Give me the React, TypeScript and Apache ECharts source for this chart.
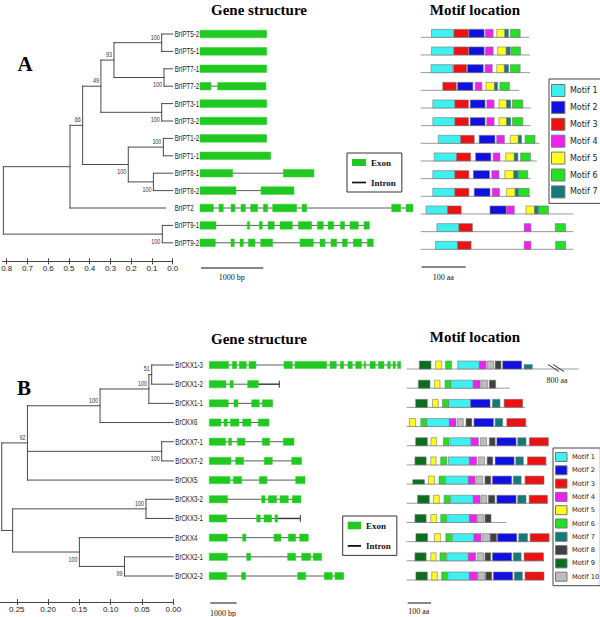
import React, { useEffect, useRef } from "react";
import * as echarts from "echarts";

// ---------------- DATA ----------------
type TNode = { d: number; b?: number; c?: TNode[]; n?: string };
const L = (n: string, d = 0): TNode => ({ n, d });
const N = (d: number, c: TNode[], b?: number): TNode => ({ d, c, b });

// Panel A tree (branch depth = distance from tips)
const TREE_A = N(0.816, [
  N(0.495, [
    N(0.434, [
      N(0.346, [
        N(0.283, [
          N(0.053, [L("BrIPT5-2"), L("BrIPT5-1")], 100),
          N(0.042, [L("BrIPT7-1"), L("BrIPT7-2")], 100),
        ], 93),
        N(0.053, [L("BrIPT3-1"), L("BrIPT3-2")], 100),
      ], 49),
      N(0.214, [
        N(0.045, [L("BrIPT1-2"), L("BrIPT1-1")], 100),
        N(0.093, [L("BrIPT8-1"), L("BrIPT8-2")], 100),
      ], 100),
    ], 66),
    L("BrIPT2", 0.034),
  ]),
  N(0.05, [L("BrIPT9-1"), L("BrIPT9-2")], 100),
]);
const BOOT_SIDE_A = ["up", "up", "up", "up", "down", "down", "down", "up", "down", "down"];
const TICKS_A = [0, 0.1, 0.2, 0.3, 0.4, 0.5, 0.6, 0.7, 0.8];

const TREE_B = N(0.274, [
  N(0.233, [
    N(0.117, [
      N(0.039, [
        N(0.0345, [L("BrCKX1-3"), L("BrCKX1-2")], 51),
        L("BrCKX1-1"),
      ], 100),
      L("BrCKX6"),
    ], 100),
    N(0.0185, [L("BrCKX7-1"), L("BrCKX7-2")], 100),
    L("BrCKX5"),
  ], 92),
  N(0.2566, [
    N(0.0436, [L("BrCKX3-2"), L("BrCKX3-1")], 100),
    N(0.15, [L("BrCKX4"), N(0.078, [L("BrCKX2-1"), L("BrCKX2-2")], 99)], 100),
  ]),
]);
const BOOT_SIDE_B = ["up", "up", "up", "up", "down", "up", "down", "down"];
const TICKS_B = [0, 0.05, 0.1, 0.15, 0.2, 0.25];

// Gene structures (bp) - exons per gene, in leaf order
const EXONS_A: number[][][] = [
  [[0, 1053]],
  [[0, 1053]],
  [[0, 1053]],
  [[0, 174], [279, 1042]],
  [[0, 1053]],
  [[0, 1053]],
  [[0, 1053]],
  [[0, 1116]],
  [[0, 516], [1316, 1800]],
  [[0, 568], [963, 1484]],
  [[0, 211], [300, 368], [489, 553], [647, 716], [800, 911], [1000, 1068], [1147, 1526], [1611, 1684], [3026, 3168], [3253, 3363]],
  [[0, 253], [747, 784], [937, 984], [1074, 1174], [1263, 1458], [1553, 1763], [1853, 1947], [2021, 2111], [2216, 2284], [2368, 2500], [2589, 2674]],
  [[0, 242], [489, 542], [632, 684], [763, 868], [958, 1147], [1579, 1789], [1895, 1974], [2068, 2158], [2247, 2326], [2421, 2553], [2642, 2737]],
];
const GENE_END_A: (number | null)[] = EXONS_A.map(() => null);

const EXONS_B: number[][][] = [
  [[0, 708], [842, 1001], [1099, 1355], [1453, 1709], [2735, 3040], [3138, 4298], [4420, 4652], [4799, 4921], [5080, 5238], [5362, 5570], [5668, 5717], [5885, 6081], [6191, 6398], [6532, 6630], [6728, 6813], [6899, 7009]],
  [[0, 611], [757, 879], [1404, 1795]],
  [[0, 696], [903, 1050], [1551, 1832], [1941, 2320]],
  [[0, 427], [537, 659], [769, 1087], [1221, 1526], [1795, 2186]],
  [[0, 598], [708, 818], [1026, 1306], [1941, 2210], [2711, 3101]],
  [[0, 794], [965, 1258], [2015, 2308], [3016, 3382]],
  [[0, 757], [879, 1184], [1831, 2112], [3162, 3504]],
  [[0, 672], [1917, 2039], [2161, 2466], [2589, 2894], [3040, 3358]],
  [[0, 635], [1734, 1868], [2002, 2283], [2405, 2503]],
  [[0, 659], [1221, 1343], [2369, 2625], [2894, 3162], [3309, 3626]],
  [[0, 659], [1367, 1514], [2869, 3162], [3382, 3712], [3809, 4115]],
  [[0, 635], [1184, 1331], [3236, 3529], [4212, 4505], [4603, 4921]],
];
const GENE_END_B: (number | null)[] = [null, 2564, null, null, null, null, null, null, 3333, null, null, null];

// Motifs (aa): [motif, start, end, partial?]
const MOTIF_LEN_A = [241, 243, 243, 219, 244, 244, 264, 258, 244, 244, 339, 339, 339];
const MOTIFS_A: number[][][] = [
  [[1, 24, 73], [3, 74, 106], [2, 107, 141], [4, 144, 161], [5, 169, 187], [7, 187, 195], [6, 199, 221]],
  [[1, 24, 73], [3, 74, 106], [2, 107, 141], [4, 144, 161], [5, 171, 190], [7, 190, 199], [6, 201, 222]],
  [[1, 23, 71], [3, 73, 102], [2, 104, 139], [4, 143, 159], [5, 169, 186], [7, 186, 195], [6, 199, 221]],
  [[3, 49, 79], [2, 82, 116], [4, 121, 136], [5, 145, 164], [7, 164, 171], [6, 176, 197]],
  [[1, 27, 76], [3, 76, 106], [2, 110, 143], [4, 147, 163], [5, 174, 191], [7, 191, 200], [6, 204, 227]],
  [[1, 27, 76], [3, 76, 106], [2, 110, 143], [4, 147, 163], [5, 174, 191], [7, 191, 200], [6, 204, 227]],
  [[1, 39, 89], [3, 89, 119], [2, 130, 165], [4, 169, 186], [5, 199, 217], [7, 217, 224], [6, 232, 254]],
  [[1, 30, 80], [3, 80, 111], [2, 122, 156], [4, 161, 176], [5, 189, 208], [7, 208, 216], [6, 222, 244]],
  [[1, 27, 76], [3, 76, 107], [2, 117, 153], [4, 158, 174], [5, 187, 207], [7, 207, 216], [6, 216, 238]],
  [[1, 27, 76], [3, 76, 107], [2, 119, 154], [4, 159, 175], [5, 191, 210], [7, 210, 217], [6, 217, 241]],
  [[1, 12, 60], [3, 60, 90], [2, 154, 190], [4, 191, 208], [5, 234, 253], [7, 253, 261], [6, 261, 284]],
  [[1, 36, 85], [3, 85, 115], [4, 230, 245], [6, 299, 322]],
  [[1, 33, 82], [3, 82, 112], [4, 230, 245], [6, 300, 322]],
];

const MOTIF_LEN_B = [707, 425, 487, 498, 583, 577, 565, 581, 409, 586, 565, 565];
const MOTIFS_B: number[][][] = [
  [[9, 52, 100], [5, 119, 144], [6, 160, 185], [1, 210, 299], [4, 299, 327], [10, 332, 357], [8, 364, 388], [2, 395, 473], [7, 483, 517, 1]],
  [[9, 48, 96], [5, 114, 137], [6, 158, 181], [1, 181, 274], [4, 274, 302], [10, 306, 333], [8, 340, 366]],
  [[9, 37, 85], [5, 106, 130], [6, 147, 172], [1, 172, 263], [2, 263, 343], [7, 353, 384], [3, 401, 477]],
  [[5, 11, 37], [6, 58, 82], [1, 82, 176], [4, 176, 203], [10, 209, 233], [8, 244, 268], [2, 277, 357], [7, 364, 395], [3, 412, 490]],
  [[9, 37, 85], [5, 100, 123], [6, 151, 174], [1, 178, 265], [4, 265, 295], [10, 303, 329], [8, 340, 364], [2, 371, 450], [7, 457, 491], [3, 505, 583]],
  [[9, 34, 80], [5, 99, 121], [6, 140, 165], [1, 172, 258], [4, 258, 288], [10, 295, 320], [8, 331, 354], [2, 364, 442], [7, 449, 480], [3, 497, 573]],
  [[9, 25, 73, 1], [5, 89, 114], [6, 133, 158], [1, 161, 254], [4, 254, 281], [10, 285, 313], [8, 322, 346], [2, 353, 432], [7, 439, 471], [3, 487, 565]],
  [[9, 45, 93], [5, 110, 134], [6, 154, 178], [1, 181, 274], [4, 274, 302], [10, 306, 329], [8, 336, 363], [2, 371, 450], [7, 457, 491], [3, 504, 579]],
  [[9, 34, 80], [5, 99, 123], [6, 140, 165], [1, 169, 258], [4, 258, 288], [10, 291, 316], [8, 322, 347]],
  [[9, 38, 86], [5, 114, 140], [6, 161, 185], [1, 188, 277], [4, 277, 306], [10, 311, 343], [8, 343, 370], [2, 374, 453], [7, 461, 497], [3, 508, 586]],
  [[9, 34, 80], [5, 99, 121], [6, 137, 162], [1, 165, 254], [4, 254, 284], [10, 291, 316], [8, 322, 346], [2, 353, 432], [7, 439, 471], [3, 483, 563]],
  [[9, 38, 85], [5, 103, 126], [6, 144, 167], [1, 169, 258], [4, 258, 291], [10, 295, 322], [8, 325, 350], [2, 357, 436], [7, 443, 476], [3, 487, 565]],
];
const BREAK_B = { row: 0, at: 600, label: "800 aa" };

const SCALE_BP = 1000;
const SCALE_AA = 100;

// ---------------- STYLE ----------------
const LABEL_FONT = '"Liberation Sans", Arial, sans-serif';
const SERIF = '"Liberation Serif", "Times New Roman", serif';
const SANS = '"DejaVu Sans", Verdana, sans-serif';
const EXON_COLOR = "#22c822";
const INTRON_COLOR = "#5c5c5c";
const TREE_COLOR = "#4a4a4a";
const MOTIF_COLORS = ["#3ef0f0", "#1010e0", "#ee1111", "#ee22ee", "#ffff22", "#22e022", "#137a7a", "#404040", "#0b6e1e", "#bdbdbd"];

function layoutTree(root: TNode) {
  const segs: number[][] = [];
  const leaves: { name: string; d: number; y: number }[] = [];
  const boots: { d: number; y: number; b: number }[] = [];
  const walk = (node: TNode): number => {
    if (node.n !== undefined) {
      const y = leaves.length;
      leaves.push({ name: node.n, d: node.d, y });
      return y;
    }
    let bi = -1;
    if (node.b !== undefined) {
      bi = boots.length;
      boots.push({ d: node.d, y: 0, b: node.b });
    }
    const ys = node.c!.map(walk);
    const y = (ys[0] + ys[ys.length - 1]) / 2;
    segs.push([node.d, ys[0], node.d, ys[ys.length - 1]]);
    node.c!.forEach((ch, i) => segs.push([node.d, ys[i], ch.d, ys[i]]));
    if (bi >= 0) boots[bi].y = y;
    return y;
  };
  walk(root);
  return { segs, leaves, boots };
}

function treeSeries(t: ReturnType<typeof layoutTree>, side: string[], xi: number, yi: number) {
  return [
    {
      type: "custom", xAxisIndex: xi, yAxisIndex: yi, silent: true,
      data: t.segs.map((s) => [s[0], s[1]]),
      renderItem: (p: any, api: any) => {
        const s = t.segs[p.dataIndex];
        const a = api.coord([s[0], s[1]]);
        const b = api.coord([s[2], s[3]]);
        return { type: "line", shape: { x1: a[0], y1: a[1], x2: b[0], y2: b[1] }, style: { stroke: TREE_COLOR, lineWidth: 1, lineCap: "square" } };
      },
    },
    {
      type: "custom", xAxisIndex: xi, yAxisIndex: yi, silent: true,
      data: t.leaves.map((l) => [0, l.y]),
      renderItem: (p: any, api: any) => {
        const l = t.leaves[p.dataIndex];
        const c = api.coord([0, l.y]);
        return { type: "text", x: c[0] + 2, y: c[1], scaleX: 0.68, style: { text: l.name, fill: "#222", fontSize: 9, fontFamily: LABEL_FONT, align: "left", verticalAlign: "middle", textAlign: "left", textVerticalAlign: "middle" } };
      },
    },
    {
      type: "custom", xAxisIndex: xi, yAxisIndex: yi, silent: true,
      data: t.boots.map((b) => [b.d, b.y]),
      renderItem: (p: any, api: any) => {
        const b = t.boots[p.dataIndex];
        const c = api.coord([b.d, b.y]);
        const up = side[p.dataIndex] === "up";
        return { type: "text", x: c[0] - 2, y: c[1] + (up ? -6 : 7), scaleX: 0.72, style: { text: String(b.b), fill: "#333", fontSize: 7.5, fontFamily: LABEL_FONT, align: "right", verticalAlign: "middle", textAlign: "right", textVerticalAlign: "middle" } };
      },
    },
  ];
}

function geneSeries(exons: number[][][], ends: (number | null)[], xi: number, yi: number, exonH: number) {
  const flat: number[][] = [];
  exons.forEach((ex, r) => ex.forEach((e) => flat.push([e[0], e[1], r])));
  return [
    {
      type: "custom", name: "Intron", xAxisIndex: xi, yAxisIndex: yi, silent: true,
      itemStyle: { color: "#111" },
      data: exons.map((ex, r) => [ex[0][0], r]),
      renderItem: (p: any, api: any) => {
        const r = p.dataIndex;
        const ex = exons[r];
        const a = api.coord([ex[0][0], r]);
        const b = api.coord([ex[ex.length - 1][1], r]);
        const children: any[] = [
          { type: "line", shape: { x1: a[0], y1: a[1], x2: b[0], y2: b[1] }, style: { stroke: INTRON_COLOR, lineWidth: 1 } },
        ];
        const end = ends[r];
        if (end != null) {
          const e = api.coord([end, r]);
          children.push({ type: "line", shape: { x1: b[0], y1: b[1], x2: e[0], y2: e[1] }, style: { stroke: "#333", lineWidth: 1.4 } });
          children.push({ type: "line", shape: { x1: e[0], y1: e[1] - 3.5, x2: e[0], y2: e[1] + 3.5 }, style: { stroke: "#333", lineWidth: 1 } });
        }
        return { type: "group", children };
      },
    },
    {
      type: "custom", name: "Exon", xAxisIndex: xi, yAxisIndex: yi, silent: true,
      itemStyle: { color: EXON_COLOR },
      data: flat.map((f) => [f[0], f[2]]),
      renderItem: (p: any, api: any) => {
        const f = flat[p.dataIndex];
        const a = api.coord([f[0], f[2]]);
        const b = api.coord([f[1], f[2]]);
        return { type: "rect", shape: { x: a[0], y: a[1] - exonH / 2, width: Math.max(b[0] - a[0], 1.5), height: exonH }, style: { fill: EXON_COLOR, stroke: "#2bd42b", lineWidth: 0.5 } };
      },
    },
  ];
}

function motifSeries(motifs: number[][][], lens: number[], nMotif: number, xi: number, yi: number, boxH: number, brk?: { row: number; at: number; label: string }) {
  const out: any[] = [
    {
      type: "custom", xAxisIndex: xi, yAxisIndex: yi, silent: true,
      data: lens.map((l, r) => [0, r]),
      renderItem: (p: any, api: any) => {
        const r = p.dataIndex;
        const a = api.coord([0, r]);
        const b = api.coord([lens[r], r]);
        const y = a[1] + boxH / 2;
        const children: any[] = [{ type: "line", shape: { x1: a[0], y1: y, x2: b[0], y2: y }, style: { stroke: "#9a9a9a", lineWidth: 1 } }];
        if (brk && brk.row === r) {
          const c = api.coord([brk.at, r]);
          children.push({ type: "line", shape: { x1: c[0] - 4.5, y1: c[1] - 0.5, x2: c[0] + 6.5, y2: c[1] + 6.5 }, style: { stroke: "#333", lineWidth: 1 } });
          children.push({ type: "line", shape: { x1: c[0] + 0.5, y1: c[1] - 0.5, x2: c[0] + 11.5, y2: c[1] + 6.5 }, style: { stroke: "#333", lineWidth: 1 } });
          children.push({ type: "text", x: c[0] + 4.5, y: c[1] + 15, style: { text: brk.label, fill: "#222", fontSize: 8, fontFamily: SERIF, align: "center", verticalAlign: "middle", textAlign: "center", textVerticalAlign: "middle" } });
        }
        return { type: "group", children };
      },
    },
  ];
  for (let k = 1; k <= nMotif; k++) {
    const items: number[][] = [];
    motifs.forEach((row, r) => row.forEach((m) => { if (m[0] === k) items.push([m[1], m[2], r, m[3] || 0]); }));
    const color = MOTIF_COLORS[k - 1];
    out.push({
      type: "custom", name: `Motif ${k}`, xAxisIndex: xi, yAxisIndex: yi, silent: true,
      itemStyle: { color },
      data: items.map((it) => [it[0], it[2]]),
      renderItem: (p: any, api: any) => {
        const it = items[p.dataIndex];
        const a = api.coord([it[0], it[2]]);
        const b = api.coord([it[1], it[2]]);
        let top = a[1] - boxH / 2;
        let h = boxH;
        if (it[3]) { top += boxH * 0.45; h = boxH * 0.55; }
        return { type: "rect", shape: { x: a[0], y: top, width: b[0] - a[0], height: h }, style: { fill: color, stroke: "#777", lineWidth: 0.6 } };
      },
    });
  }
  return out;
}

function scaleBar(xi: number, yi: number, lastRow: number, len: number, label: string, dyBar: number, dyText: number) {
  return {
    type: "custom", xAxisIndex: xi, yAxisIndex: yi, silent: true,
    data: [[0, lastRow]],
    renderItem: (p: any, api: any) => {
      const a = api.coord([0, lastRow]);
      const b = api.coord([len, lastRow]);
      return {
        type: "group",
        children: [
          { type: "line", shape: { x1: a[0] + 1, y1: a[1] + dyBar, x2: b[0], y2: a[1] + dyBar }, style: { stroke: "#111", lineWidth: 1 } },
          { type: "text", x: (a[0] + b[0]) / 2, y: a[1] + dyText, style: { text: label, fill: "#111", fontSize: 8, fontFamily: SERIF, align: "center", verticalAlign: "middle", textAlign: "center", textVerticalAlign: "middle" } },
        ],
      };
    },
  };
}

// main tree axis (ticks pointing down + labels)
function treeAxis(gridIndex: number, max: number, ticks: number[], digits: number, offset: number) {
  return {
    gridIndex, type: "value", min: 0, max, inverse: true, position: "bottom", offset, splitLine: { show: false },
    axisLine: { show: true, onZero: false, lineStyle: { color: "#444", width: 1 } },
    axisTick: { show: true, inside: false, length: 3, customValues: ticks, lineStyle: { color: "#444" } },
    axisLabel: { show: true, customValues: ticks, formatter: (v: number) => v.toFixed(digits), fontSize: 8, fontFamily: LABEL_FONT, color: "#222", margin: 3.5 },
  };
}
// twin axis on an identical grid (ticks pointing up) so ticks cross the line
function treeAxisUp(gridIndex: number, max: number, ticks: number[], offset: number) {
  return {
    gridIndex, type: "value", min: 0, max, inverse: true, position: "bottom", offset, splitLine: { show: false },
    axisLine: { show: false, onZero: false },
    axisTick: { show: true, inside: true, length: 3, customValues: ticks, lineStyle: { color: "#444" } },
    axisLabel: { show: false },
  };
}

const hiddenX = (gridIndex: number, max: number) => ({ gridIndex, type: "value", min: 0, max, show: false, splitLine: { show: false } });
const hiddenY = (gridIndex: number, n: number) => ({ gridIndex, type: "value", min: 0, max: n - 1, inverse: true, show: false, splitLine: { show: false } });

function buildOption() {
  const A = layoutTree(TREE_A);
  const B = layoutTree(TREE_B);
  const nA = A.leaves.length;
  const nB = B.leaves.length;
  const titleStyle = (text: string, x: number, y: number) => ({
    type: "text", x, y, silent: true,
    style: { text, fill: "#000", font: `bold 15px ${SERIF}`, align: "center", verticalAlign: "middle", textAlign: "center", textVerticalAlign: "middle" },
  });
  const letter = (text: string, x: number, y: number) => ({
    type: "text", x, y, silent: true,
    style: { text, fill: "#000", font: `bold 21px ${SERIF}`, align: "center", verticalAlign: "middle", textAlign: "center", textVerticalAlign: "middle" },
  });
  const intronIcon = "path://M0,0M0,3.8L14,3.8L14,6.2L0,6.2ZM0,10";
  const exonLegend = (left: number, top: number, w: number, h: number, gap: number) => ({
    orient: "vertical", left, top, selectedMode: false, symbolKeepAspect: false,
    data: [{ name: "Exon", icon: "rect" }, { name: "Intron", icon: intronIcon }],
    itemWidth: w, itemHeight: h, itemGap: gap, padding: [5, 6, 5, 5],
    borderColor: "#333", borderWidth: 1, itemStyle: { borderWidth: 0 },
    textStyle: { fontFamily: SERIF, fontWeight: "bold", fontSize: 9, color: "#111" },
  });
  const motifLegend = (n: number, left: number, top: number, w: number, h: number, gap: number, fs: number, pad: number[]) => ({
    orient: "vertical", left, top, selectedMode: false,
    data: Array.from({ length: n }, (_, i) => ({ name: `Motif ${i + 1}`, icon: "rect" })),
    itemWidth: w, itemHeight: h, itemGap: gap, padding: pad,
    borderColor: "#444", borderWidth: 1, itemStyle: { borderColor: "#777", borderWidth: 1 },
    textStyle: { fontFamily: SANS, fontSize: fs, color: "#222" },
  });

  const gTreeA = { left: 2.55, top: 34, width: 170.15, height: 208.8, outerBoundsMode: "none" };
  const gTreeB = { left: 0, top: 365, width: 173.3, height: 211, outerBoundsMode: "none" };

  return {
    animation: false,
    backgroundColor: "#fff",
    grid: [
      gTreeA,
      { left: 200, top: 34, width: 228, height: 208.8, outerBoundsMode: "none" },
      { left: 420.7, top: 33.3, width: 180, height: 212, outerBoundsMode: "none" },
      gTreeB,
      { left: 209.3, top: 365, width: 196.6, height: 211, outerBoundsMode: "none" },
      { left: 406.7, top: 365, width: 194.4, height: 211, outerBoundsMode: "none" },
      { ...gTreeA },
      { ...gTreeB },
    ],
    xAxis: [
      treeAxis(0, 0.82, TICKS_A, 1, 18.5),
      hiddenX(1, 3600),
      hiddenX(2, 400),
      treeAxis(3, 0.2768, TICKS_B, 2, 26),
      hiddenX(4, 7200),
      hiddenX(5, 800),
      treeAxisUp(6, 0.82, TICKS_A, 18.5),
      treeAxisUp(7, 0.2768, TICKS_B, 26),
    ],
    yAxis: [hiddenY(0, nA), hiddenY(1, nA), hiddenY(2, nA), hiddenY(3, nB), hiddenY(4, nB), hiddenY(5, nB), hiddenY(6, nA), hiddenY(7, nB)],
    legend: [
      exonLegend(347, 153, 14, 7, 11),
      motifLegend(7, 549, 79, 13.4, 12, 3.9, 8, [5, 3, 5, 2]),
      exonLegend(342.7, 516, 13.3, 7.6, 11.4),
      motifLegend(10, 553, 448, 11.5, 9, 3.3, 6.7, [4, 1, 4, 2]),
    ],
    graphic: [
      titleStyle("Gene structure", 259, 10),
      titleStyle("Motif location", 475, 10),
      titleStyle("Gene structure", 259, 338.5),
      titleStyle("Motif location", 475, 337),
      letter("A", 25, 63.5),
      letter("B", 24, 388),
    ],
    series: [
      ...treeSeries(A, BOOT_SIDE_A, 0, 0),
      ...geneSeries(EXONS_A, GENE_END_A, 1, 1, 7.6),
      scaleBar(1, 1, nA - 1, SCALE_BP, "1000 bp", 25.2, 34.2),
      ...motifSeries(MOTIFS_A, MOTIF_LEN_A, 7, 2, 2, 8),
      scaleBar(2, 2, nA - 1, SCALE_AA, "100 aa", 21.7, 31.7),
      ...treeSeries(B, BOOT_SIDE_B, 3, 3),
      ...geneSeries(EXONS_B, GENE_END_B, 4, 4, 7.2),
      scaleBar(4, 4, nB - 1, SCALE_BP, "1000 bp", 27, 37),
      ...motifSeries(MOTIFS_B, MOTIF_LEN_B, 10, 5, 5, 8, BREAK_B),
      scaleBar(5, 5, nB - 1, SCALE_AA, "100 aa", 27, 35.7),
    ],
  };
}

export default function App() {
  const ref = useRef<HTMLDivElement>(null);
  useEffect(() => {
    const chart = echarts.init(ref.current!, null, { renderer: "svg" });
    chart.setOption(buildOption() as any);
    return () => chart.dispose();
  }, []);
  return <div ref={ref} style={{ position: "fixed", left: 0, top: 0, width: 600, height: 617, background: "#fff" }} />;
}
